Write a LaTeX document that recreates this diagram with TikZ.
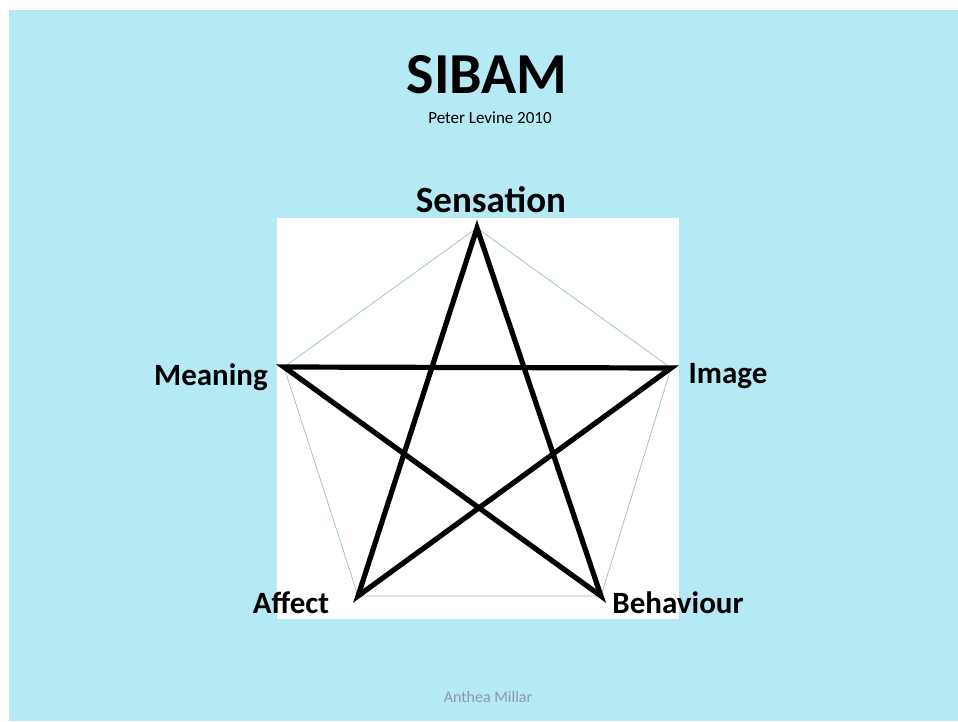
\documentclass[tikz,border=0pt]{standalone}
\usepackage{fontspec}
\setmainfont{Carlito}
\usepackage{tikz}
\usetikzlibrary{positioning}
\definecolor{slideblue}{HTML}{B5E9F4}
\definecolor{rimblue}{HTML}{8DB6C9}
\definecolor{footgray}{HTML}{8A9BA3}

\begin{document}
\begin{tikzpicture}[
  x=1pt, y=-1pt,
  label/.style={font=\bfseries\fontsize{31}{31}\selectfont, anchor=base, inner sep=0pt},
  starline/.style={line width=5.2pt, line join=miter, black},
  rimline/.style={line width=0.6pt, rimblue}
]
\useasboundingbox (0,0) rectangle (958,721);
\fill[white] (0,0) rectangle (958,721);
\fill[slideblue] (9,10) rectangle (958,721);
\fill[white] (277,218) rectangle (679,619);
% vertices
\coordinate (sens) at (477,228);
\coordinate (img) at (671,368);
\coordinate (beh) at (601,596);
\coordinate (aff) at (358,596);
\coordinate (mean) at (284,367);
% title
\node[font=\bfseries\fontsize{58}{58}\selectfont, anchor=base, inner sep=0pt] (title) at (487,93) {SIBAM};
\node[font=\fontsize{17}{17}\selectfont, anchor=base, inner sep=0pt] (author) at (490,123) {Peter Levine 2010};
% labels
\node[label, font=\bfseries\fontsize{37}{37}\selectfont] (senslab) at (491,212) {Sensation};
\node[label] (imglab) at (728,383) {Image};
\node[label] (behlab) at (678,613) {Behaviour};
\node[label] (afflab) at (291,613) {Affect};
\node[label] (meanlab) at (211,385) {Meaning};
\node[font=\fontsize{16}{16}\selectfont, text=footgray, anchor=base, inner sep=0pt] (credit) at (488,702) {Anthea Millar};
% pentagon and star
\draw[rimline] (sens) -- (img) -- (beh) -- (aff) -- (mean) -- cycle;
\draw[starline] (sens) -- (aff) -- (img) -- (mean) -- (beh) -- cycle;
\end{tikzpicture}
\end{document}
